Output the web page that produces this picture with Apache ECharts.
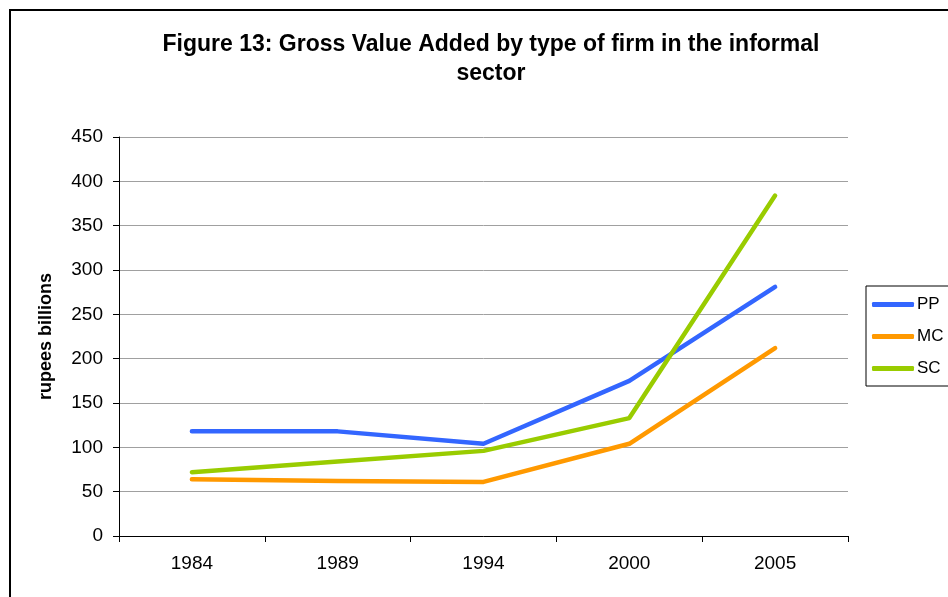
<!DOCTYPE html>
<html>
<head>
<meta charset="utf-8">
<script src="https://cdn.jsdelivr.net/npm/echarts@6/dist/echarts.min.js"></script>
<style>
html, body { margin: 0; padding: 0; background: #fff; }
#chart { width: 948px; height: 597px; }
</style>
</head>
<body>
<div id="chart"></div>
<script>
var years = ['1984', '1989', '1994', '2000', '2005'];
var ppValues = [118, 118, 104, 175, 281];
var mcValues = [64, 62, 61, 104, 212];
var scValues = [72, 84, 96, 133, 384];
var yTicks = { min: 0, max: 450, interval: 50 };

var font = 'Liberation Sans, Arial, sans-serif';

function lineSeries(name, data, color) {
	return {
		name: name,
		type: 'line',
		data: data,
		symbol: 'none',
		lineStyle: { color: color, width: 4.5, cap: 'round', join: 'round' },
		itemStyle: { color: color }
	};
}

var chart = echarts.init(document.getElementById('chart'));
chart.setOption({
	animation: false,
	backgroundColor: '#fff',
	textStyle: { fontFamily: font },
	title: {
		text: 'Figure 13: Gross Value Added by type of firm in the informal\nsector',
		left: 486,
		top: 25,
		textAlign: 'center',
		textStyle: {
			fontFamily: font,
			fontWeight: 'bold',
			fontSize: 23,
			lineHeight: 29,
			color: '#000'
		}
	},
	// outer frame of the chart, cut off on the right and bottom
	graphic: [{
		type: 'rect',
		shape: { x: 10, y: 10, width: 1000, height: 700 },
		style: { fill: 'none', stroke: '#000', lineWidth: 2 },
		silent: true
	}],
	legend: {
		orient: 'vertical',
		left: 866,
		top: 286,
		data: ['PP', 'MC', 'SC'],
		icon: 'roundRect',
		itemWidth: 42,
		itemHeight: 5,
		itemGap: 15,
		padding: [10, 20, 9, 6],
		borderColor: '#000',
		borderWidth: 1,
		textStyle: { fontFamily: font, fontSize: 17, color: '#000', padding: [0, 0, 0, -2] }
	},
	grid: {
		left: 119,
		right: 100,
		top: 137,
		bottom: 61,
		containLabel: false
	},
	xAxis: {
		type: 'category',
		data: years,
		boundaryGap: true,
		axisLine: { lineStyle: { color: '#000', width: 1 } },
		axisTick: { show: true, length: 6, lineStyle: { color: '#000' } },
		axisLabel: { fontFamily: font, fontSize: 19, color: '#000', margin: 18 }
	},
	yAxis: {
		type: 'value',
		min: yTicks.min,
		max: yTicks.max,
		interval: yTicks.interval,
		name: 'rupees billions',
		nameLocation: 'middle',
		nameGap: 64,
		nameTextStyle: { fontFamily: font, fontWeight: 'bold', fontSize: 18, color: '#000' },
		axisLine: { show: true, lineStyle: { color: '#000', width: 1 } },
		axisTick: { show: true, length: 6, lineStyle: { color: '#000' } },
		axisLabel: { fontFamily: font, fontSize: 19, color: '#000', margin: 16 },
		splitLine: { show: true, lineStyle: { color: '#a0a0a0', width: 1 } }
	},
	series: [
		lineSeries('PP', ppValues, '#3366ff'),
		lineSeries('MC', mcValues, '#ff9900'),
		lineSeries('SC', scValues, '#99cc00')
	]
});
</script>
</body>
</html>
